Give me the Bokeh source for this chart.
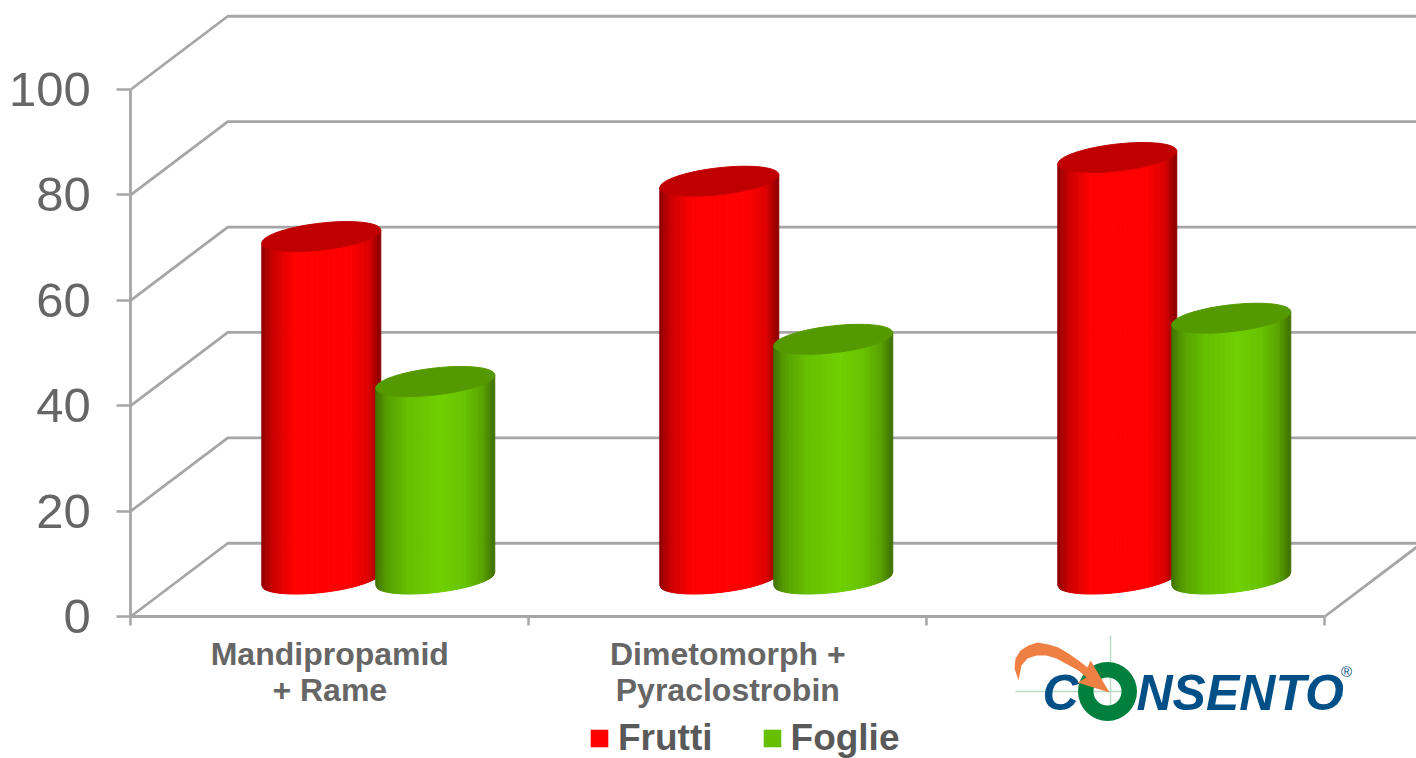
import numpy as np
from bokeh.plotting import figure
from bokeh.models import LinearAxis, FixedTicker, Range1d, Legend, LegendItem
from bokeh.core.properties import value
from bokeh.embed import file_html
from bokeh.resources import INLINE

# ---- data ----
categories = ["Mandipropamid\n+ Rame", "Dimetomorph +\nPyraclostrobin", ""]
frutti = [65, 75.5, 80]
foglie = [37.5, 45.5, 49.5]
y_ticks = [0, 20, 40, 60, 80, 100]
series_names = ["Frutti", "Foglie"]

# ---- scale: page pixels <-> data ----
PX0, PY0 = 130.3, 616.0      # page pixel of data (0,0)
SX, SY = 398.0, 5.27         # pixels per data unit
W, H = 1416, 758
def dx_(px): return (px - PX0) / SX
def dy_(py): return (PY0 - py) / SY

p = figure(width=W, height=H, output_backend="svg", toolbar_location=None,
           x_range=Range1d(dx_(0), dx_(W)), y_range=Range1d(dy_(H), dy_(0)),
           x_axis_location=None, y_axis_location=None, min_border=0,
           background_fill_color="white", border_fill_color="white")
p.outline_line_color = None
p.grid.visible = False

GRID = "#a6a6a6"
TXT = "#666666"
DEPTH_X, DEPTH_Y = 0.2437, 13.9
n_cat = len(categories)

# walls and floor
xs, ys = [], []
for v in y_ticks:
    xs.append([0, DEPTH_X, n_cat + DEPTH_X])
    ys.append([v, v + DEPTH_Y, v + DEPTH_Y])
xs.append([n_cat, n_cat + DEPTH_X])
ys.append([0, DEPTH_Y])
p.multi_line(xs, ys, line_color=GRID, line_width=2.8)

# cylinders
BASE = 7.1
A, S, B = 0.1495, 1.23, 2.56
OFFS = [0.4786, 0.7650]
STOPS_U = [-1, -0.8, -0.45, 0.1, 0.5, 0.8, 1]
SHADES = [
    ([0x90, 0xcc, 0xff, 0xff, 0xff, 0xdc, 0x88], [0]*7, [0]*7),
    ([0x40, 0x58, 0x66, 0x70, 0x68, 0x5a, 0x40],
     [0x72, 0xa0, 0xbf, 0xd0, 0xc4, 0xa4, 0x70], [0]*7),
]
TOPS = ["#c00000", "#559900"]

def draw_cylinder(xc, val, s):
    ytop = BASE + val
    u = np.linspace(-1, 1, 71)
    low = S * u - B * np.sqrt(1 - u ** 2)
    sxs, sys_, cols = [], [], []
    for i in range(len(u) - 1):
        x0, x1 = xc + A * u[i], xc + A * u[i + 1]
        sxs.append([x0, x1, x1, x0])
        sys_.append([BASE + low[i], BASE + low[i + 1], ytop + low[i + 1], ytop + low[i]])
        m = (u[i] + u[i + 1]) / 2
        r, g, b = (int(np.interp(m, STOPS_U, c)) for c in SHADES[s])
        cols.append(f"#{r:02x}{g:02x}{b:02x}")
    p.patches(sxs, sys_, fill_color=cols, line_color=cols, line_width=1)
    t = np.linspace(0, 2 * np.pi, 120)
    p.patch(xc + A * np.cos(t), ytop + S * np.cos(t) + B * np.sin(t),
            fill_color=TOPS[s], line_color=TOPS[s], line_width=1)

for i in range(n_cat):
    draw_cylinder(i + OFFS[0], frutti[i], 0)
    draw_cylinder(i + OFFS[1], foglie[i], 1)

# axes
yax = LinearAxis(fixed_location=0, ticker=FixedTicker(ticks=y_ticks), bounds=(0, 100),
                 axis_line_color=GRID, axis_line_width=2.8,
                 major_tick_line_color=GRID, major_tick_line_width=2.5,
                 major_tick_in=0, major_tick_out=14, minor_tick_line_color=None,
                 major_label_text_font="Liberation Sans", major_label_text_font_size="49px",
                 major_label_text_color=TXT, major_label_standoff=26)
p.add_layout(yax, "left")

xax = LinearAxis(fixed_location=0, ticker=FixedTicker(ticks=list(range(n_cat + 1))),
                 bounds=(0, n_cat), axis_line_color=GRID, axis_line_width=3.2,
                 major_tick_line_color=GRID, major_tick_line_width=2.5,
                 major_tick_in=0, major_tick_out=9, minor_tick_line_color=None,
                 major_label_text_font_size="0px")
xax.major_label_overrides = {i: "" for i in range(n_cat + 1)}
p.add_layout(xax, "below")

named = [i + 0.5 for i in range(n_cat) if categories[i]]
lab = LinearAxis(fixed_location=0, ticker=FixedTicker(ticks=named),
                 axis_line_color=None, major_tick_line_color=None, minor_tick_line_color=None,
                 major_tick_in=0, major_tick_out=0, major_label_standoff=19,
                 major_label_text_font="Liberation Sans", major_label_text_font_style="bold",
                 major_label_text_font_size="32px", major_label_text_color=TXT,
                 major_label_text_line_height=1.02)
lab.major_label_overrides = {i + 0.5: categories[i] for i in range(n_cat) if categories[i]}
p.add_layout(lab, "below")

# legend (its keys come from quads that lie outside the ranges)
r1 = p.quad(left=[-9], right=[-8], bottom=[-900], top=[-899], fill_color="#ff0000", line_color=None)
r2 = p.quad(left=[-9], right=[-8], bottom=[-900], top=[-899], fill_color="#66bf00", line_color=None)
leg = Legend(items=[LegendItem(label=series_names[0], renderers=[r1]),
                    LegendItem(label=series_names[1], renderers=[r2])],
             orientation="horizontal", location=(588, -1), border_line_color=None,
             background_fill_alpha=0, glyph_width=22, glyph_height=22, label_standoff=8,
             spacing=48, padding=0, margin=0,
             label_text_font="Liberation Sans", label_text_font_style="bold",
             label_text_font_size="37px", label_text_color="#595959", label_height=37)
p.add_layout(leg, "center")

# Consento logo (brand artwork, not data)
BLUE, GREEN, ORANGE, PALE = "#004f86", "#00803c", "#ef8044", "#b9dcc8"
p.line([dx_(1110), dx_(1110)], [dy_(635), dy_(720)], line_color=PALE, line_width=1.5)
p.line([dx_(1015), dx_(1122)], [dy_(691), dy_(691)], line_color=PALE, line_width=1.5)
p.annulus(x=[dx_(1107)], y=[dy_(691)], inner_radius=14, outer_radius=29.5,
          inner_radius_units="screen", outer_radius_units="screen",
          fill_color=GREEN, line_color=None)
p.text([dx_(1042)], [dy_(692)], text=["C"], text_font=value("Liberation Sans"),
       text_font_style="bold italic", text_font_size="50px", text_color=BLUE,
       text_baseline="middle")
p.text([dx_(1136)], [dy_(692)], text=["NSENTO"], text_font=value("Liberation Sans"),
       text_font_style="bold italic", text_font_size="50px", text_color=BLUE,
       text_baseline="middle")
p.text([dx_(1346)], [dy_(671)], text=["®"], text_font=value("Liberation Sans"),
       text_font_size="15px", text_color=BLUE, text_align="center", text_baseline="middle")
arrow_px = [(1018, 680), (1014, 668), (1015, 658), (1020, 650), (1028, 645), (1037, 642),
            (1048, 644), (1058, 647), (1068, 653), (1078, 660), (1087, 667),
            (1090, 660), (1109, 692), (1077, 682), (1086, 677), (1078, 670), (1067, 664),
            (1056, 658), (1046, 655), (1036, 655), (1027, 658), (1021, 665)]
p.patch([dx_(a) for a, _ in arrow_px], [dy_(b) for _, b in arrow_px],
        fill_color=ORANGE, line_color=None)

open("out.html", "w").write(file_html(p, INLINE))
